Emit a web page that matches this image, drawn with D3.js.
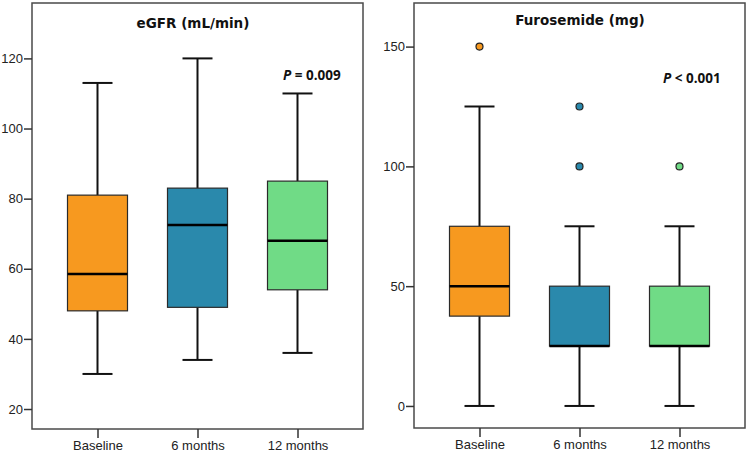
<!DOCTYPE html>
<html>
<head>
<meta charset="utf-8">
<script src="https://cdn.jsdelivr.net/npm/d3@7"></script>
<style>
  body { margin: 0; background: #fff; }
  svg { display: block; }
</style>
</head>
<body>
<svg id="chart" width="748" height="454"></svg>
<script>
const categories = ["Baseline", "6 months", "12 months"];
const boxColors = ["#F7991F", "#2A89AC", "#70DB86"];

const egfrMin = [30, 34, 36];
const egfrQ1 = [48, 49, 54];
const egfrMedian = [58.5, 72.5, 68];
const egfrQ3 = [81, 83, 85];
const egfrMax = [113, 120, 110];
const egfrOutliers = [[], [], []];
const egfrTicks = [20, 40, 60, 80, 100, 120];

const furoMin = [0, 0, 0];
const furoQ1 = [37.5, 25, 25];
const furoMedian = [50, 25, 25];
const furoQ3 = [75, 50, 50];
const furoMax = [125, 75, 75];
const furoOutliers = [[150], [100, 125], [100]];
const furoTicks = [0, 50, 100, 150];

const svg = d3.select("#chart");

function panel(cfg) {
  const g = svg.append("g");
  const x = d3.scalePoint().domain(categories).range([cfg.left, cfg.right]).padding(0.655);
  const y = d3.scaleLinear().domain(cfg.yDomain).range([cfg.bottom, cfg.top]);

  // frame
  g.append("rect")
    .attr("x", cfg.left).attr("y", cfg.top)
    .attr("width", cfg.right - cfg.left).attr("height", cfg.bottom - cfg.top)
    .attr("fill", "none").attr("stroke", "#4a4a4a").attr("stroke-width", 1.5);

  // y axis
  const ya = g.append("g").attr("transform", `translate(${cfg.left},0)`)
    .call(d3.axisLeft(y).tickValues(cfg.ticks).tickSize(8).tickPadding(1).tickSizeOuter(0));
  ya.select(".domain").remove();
  ya.selectAll("line").attr("stroke", "#333").attr("stroke-width", 1.5);
  ya.selectAll("text").attr("font-family", "Liberation Sans, Arial, sans-serif")
    .attr("font-size", 13).attr("fill", "#222");

  // x axis
  const xa = g.append("g").attr("transform", `translate(0,${cfg.bottom})`)
    .call(d3.axisBottom(x).tickSize(9).tickPadding(3).tickSizeOuter(0));
  xa.select(".domain").remove();
  xa.selectAll("line").attr("stroke", "#333").attr("stroke-width", 1.5);
  xa.selectAll("text").attr("font-family", "Liberation Sans, Arial, sans-serif")
    .attr("font-size", 13).attr("fill", "#222");

  const boxW = 60, capW = 30;
  categories.forEach((c, i) => {
    const cx = x(c);
    // whiskers
    g.append("line").attr("x1", cx).attr("x2", cx)
      .attr("y1", y(cfg.max[i])).attr("y2", y(cfg.q3[i]))
      .attr("stroke", "#111").attr("stroke-width", 2);
    g.append("line").attr("x1", cx).attr("x2", cx)
      .attr("y1", y(cfg.q1[i])).attr("y2", y(cfg.min[i]))
      .attr("stroke", "#111").attr("stroke-width", 2);
    g.append("line").attr("x1", cx - capW / 2).attr("x2", cx + capW / 2)
      .attr("y1", y(cfg.max[i])).attr("y2", y(cfg.max[i]))
      .attr("stroke", "#111").attr("stroke-width", 2);
    g.append("line").attr("x1", cx - capW / 2).attr("x2", cx + capW / 2)
      .attr("y1", y(cfg.min[i])).attr("y2", y(cfg.min[i]))
      .attr("stroke", "#111").attr("stroke-width", 2);
    // box
    g.append("rect")
      .attr("x", cx - boxW / 2).attr("width", boxW)
      .attr("y", y(cfg.q3[i])).attr("height", y(cfg.q1[i]) - y(cfg.q3[i]))
      .attr("fill", boxColors[i]).attr("stroke", "#2a2a2a").attr("stroke-width", 1.2);
    // median
    g.append("line").attr("x1", cx - boxW / 2).attr("x2", cx + boxW / 2)
      .attr("y1", y(cfg.median[i])).attr("y2", y(cfg.median[i]))
      .attr("stroke", "#000").attr("stroke-width", 2.5);
    // outliers
    cfg.outliers[i].forEach(v => {
      g.append("circle").attr("cx", cx).attr("cy", y(v)).attr("r", 3.5)
        .attr("fill", boxColors[i]).attr("stroke", "#222").attr("stroke-width", 1.2);
    });
  });

  // title
  g.append("text").attr("x", cfg.titleX).attr("y", cfg.titleY)
    .attr("text-anchor", "middle")
    .attr("font-family", "DejaVu Sans, Verdana, sans-serif")
    .attr("font-weight", "bold").attr("font-size", 13.5).attr("fill", "#111")
    .text(cfg.title);

  // p-value
  const pt = g.append("text").attr("x", cfg.pX).attr("y", cfg.pY)
    .attr("font-family", "Open Sans, sans-serif")
    .attr("font-weight", "bold").attr("font-size", 13.5).attr("fill", "#111");
  pt.append("tspan").attr("font-style", "italic").text("P");
  pt.append("tspan").text(cfg.pText);
}

panel({
  left: 32, right: 363, top: 3, bottom: 429,
  yDomain: [14.3, 135.8], ticks: egfrTicks,
  min: egfrMin, q1: egfrQ1, median: egfrMedian, q3: egfrQ3, max: egfrMax, outliers: egfrOutliers,
  title: "eGFR (mL/min)", titleX: 193, titleY: 28,
  pText: " = 0.009", pX: 283, pY: 80
});

panel({
  left: 414, right: 745, top: 3, bottom: 428,
  yDomain: [-9.2, 168.2], ticks: furoTicks,
  min: furoMin, q1: furoQ1, median: furoMedian, q3: furoQ3, max: furoMax, outliers: furoOutliers,
  title: "Furosemide (mg)", titleX: 580, titleY: 25,
  pText: " < 0.001", pX: 663, pY: 83
});
</script>
</body>
</html>
